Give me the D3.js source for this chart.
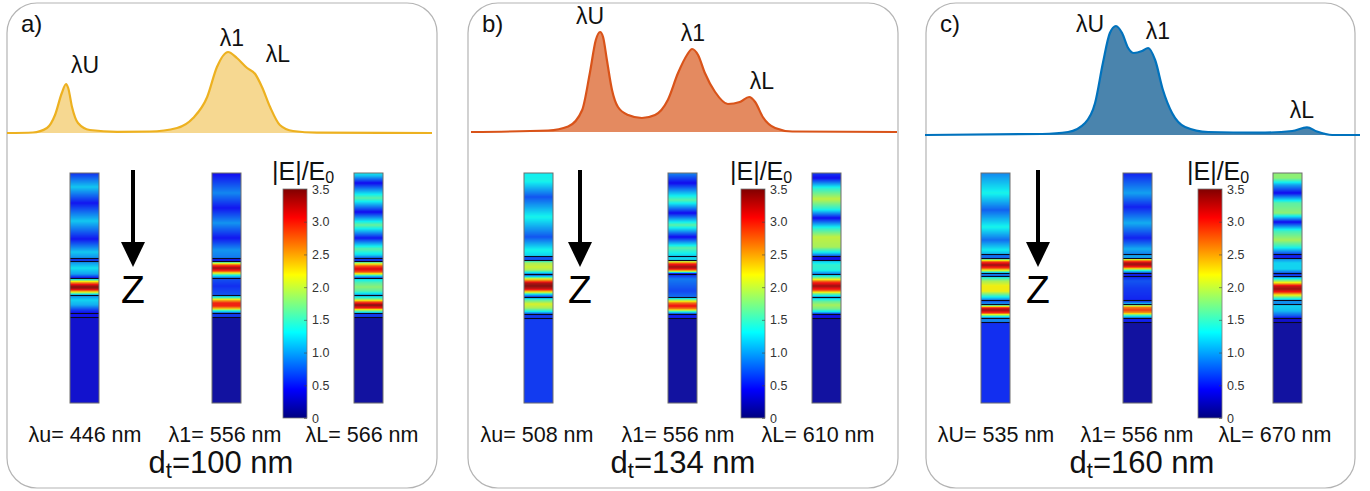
<!DOCTYPE html>
<html><head><meta charset="utf-8">
<script src="https://cdn.jsdelivr.net/npm/d3@7"></script>
<style>
body{margin:0;background:#fff}
svg{display:block;font-family:"Liberation Sans",Arial,Helvetica,sans-serif}
</style>
</head><body>
<svg id="chart" width="1370" height="491"></svg>
<script>
// ---------------- DATA ----------------
const panelLabels = ["a)", "b)", "c)"];
const cavityThickness = [100, 134, 160];           // d_t in nm
const wlNames = [["λu", "λ1", "λL"], ["λu", "λ1", "λL"], ["λU", "λ1", "λL"]];
const wlValues = [[446, 556, 566], [508, 556, 610], [535, 556, 670]];
const peakNames = ["λU", "λ1", "λL"];

// spectra: normalised spectral position (0-100) and intensity (a.u.)
const specA_pos = [0, 6.1, 9.4, 11.3, 12.9, 13.9, 14.4, 15.3, 16.7, 19.5, 25.9, 33.6, 40.0, 43.8, 47.1, 49.4, 52.0, 54.1, 56.5, 58.4, 60.0, 61.9, 64.2, 67.3, 72.9, 100];
const specA_val = [0, 0.005, 0.05, 0.18, 0.40, 0.49, 0.45, 0.26, 0.10, 0.03, 0.012, 0.015, 0.05, 0.15, 0.36, 0.66, 0.81, 0.75, 0.65, 0.59, 0.46, 0.26, 0.08, 0.02, 0.003, 0];
const specB_pos = [0, 18.1, 22.8, 26.1, 27.9, 29.3, 30.3, 31.0, 31.9, 33.1, 34.5, 36.9, 40.1, 43.2, 46.2, 48.6, 50.7, 51.9, 53.3, 54.9, 57.3, 60.3, 63.1, 65.3, 66.7, 68.5, 71.4, 75.4, 100];
const specB_val = [0, 0.015, 0.055, 0.22, 0.59, 0.92, 1.0, 0.95, 0.72, 0.42, 0.25, 0.17, 0.14, 0.17, 0.32, 0.59, 0.77, 0.83, 0.77, 0.59, 0.40, 0.28, 0.30, 0.35, 0.30, 0.15, 0.04, 0.005, 0];
const specC_pos = [0, 26.9, 32.9, 36.8, 39.1, 40.9, 42.5, 43.9, 45.3, 46.7, 48.0, 49.9, 51.3, 52.9, 54.7, 56.8, 59.8, 65.1, 76.6, 84.4, 87.8, 90.1, 93.6, 100];
const specC_val = [0, 0.01, 0.03, 0.12, 0.32, 0.72, 1.02, 1.09, 1.02, 0.87, 0.82, 0.84, 0.87, 0.75, 0.45, 0.22, 0.08, 0.03, 0.023, 0.04, 0.077, 0.035, 0, 0];

// layer interfaces (depth, a.u. 0-230 from top of the simulated stack)
const interfacesA = [85, 88, 105, 122, 140, 144];
const interfacesB = [83, 87, 101, 124, 141, 145];
const interfacesC = [81, 85, 100, 103, 127, 131, 145, 149];

// field profiles |E|/E0 : [depth, value]
const profA_U = [[0,0.55],[14,1.15],[30,0.45],[48,1.15],[66,0.45],[79,1.15],[84.5,0.95],[85.5,0.55],[87.5,0.6],[88.5,0.9],[95,1.25],[101,1.0],[104.5,0.5],[105.5,1.0],[107,1.6],[109,2.4],[112,3.2],[114,3.5],[116,3.3],[118,2.6],[120,1.8],[121.5,1.2],[122.5,0.9],[127,1.2],[132,1.05],[137,0.6],[139.5,0.45],[140.5,0.45],[143.5,0.45],[144.5,0.3],[230,0.3]];
const profA_1 = [[0,0.4],[20,0.9],[35,0.45],[50,0.95],[65,0.45],[77,0.95],[84.5,0.85],[85.5,0.45],[87.5,0.5],[88.5,1.2],[90,1.9],[92,2.8],[95,3.4],[98,2.9],[100.5,2.0],[102.5,1.3],[104.5,0.9],[105.5,0.7],[113,0.55],[121.5,0.7],[122.5,0.9],[124.5,1.5],[127,2.4],[130,3.0],[133,3.0],[135.5,2.4],[137.5,1.5],[139.5,0.9],[140.5,0.6],[143.5,0.6],[144.5,0.12],[230,0.12]];
const profA_L = [[0,1.3],[3,1.1],[10,0.4],[25,1.6],[39,0.4],[52,1.65],[65,0.45],[76,1.6],[82,1.2],[84.5,0.8],[85.5,0.6],[87.5,0.6],[88.5,1.2],[90,1.9],[93,2.8],[96,3.2],[99,2.8],[101.5,1.9],[103,1.2],[104.5,0.8],[105.5,1.2],[110,1.6],[114,1.8],[118,1.6],[121.5,1.1],[122.5,1.0],[126,1.7],[129,2.8],[132,3.5],[135,3.0],[137,2.0],[139.5,1.2],[140.5,0.6],[143.5,0.6],[144.5,0.12],[230,0.12]];

const profB_U = [[0,1.3],[8,1.35],[24,0.7],[44,1.35],[64,0.7],[77,1.35],[82.5,1.2],[83.5,0.7],[86.5,0.7],[87.5,1.3],[90,1.9],[94,2.05],[97,1.9],[100.5,1.0],[101.5,0.6],[103,1.0],[106,2.2],[110,3.3],[113,3.5],[116,3.2],[119,2.2],[121.5,1.2],[123.5,0.7],[124.5,0.9],[127,1.6],[131,2.1],[135,1.9],[138,1.4],[140.5,0.8],[141.5,0.6],[144.5,0.6],[145.5,0.6],[230,0.6]];
const profB_1 = [[0,0.9],[10,0.4],[27,1.6],[40,0.4],[52,1.6],[64,0.4],[75,1.6],[82.5,1.2],[83.5,1.2],[86.5,1.2],[87.5,1.5],[89,2.3],[91,3.0],[94,3.4],[96,3.1],[98,2.3],[99.5,1.2],[100.5,0.5],[101.5,0.5],[106,0.85],[112,0.75],[118,0.65],[123.5,0.8],[124.5,1.0],[127,1.8],[130,2.7],[133,3.1],[136,2.6],[138.5,1.5],[140.5,0.8],[141.5,0.5],[144.5,0.5],[145.5,0.12],[230,0.12]];
const profB_L = [[0,0.6],[5,0.4],[15,1.4],[26,2.0],[36,1.4],[45,0.4],[55,1.4],[64,2.0],[74,1.9],[80,1.2],[82.5,0.8],[83.5,0.4],[86.5,0.4],[87.5,1.1],[92,1.45],[97,1.4],[100.5,0.9],[101.5,1.0],[105,1.8],[109,2.9],[113,3.4],[117,2.9],[120.5,1.8],[123.5,1.1],[124.5,1.0],[128,1.6],[132,1.9],[136,1.7],[139,1.2],[140.5,0.7],[141.5,0.4],[144.5,0.4],[145.5,0.12],[230,0.12]];

const profC_U = [[0,0.9],[20,1.35],[37,0.75],[54,1.35],[67,0.8],[77,1.3],[80.5,1.1],[81.5,0.8],[84.5,0.8],[85.5,1.2],[87,2.0],[89,2.9],[92,3.4],[95,2.9],[98,1.9],[100,1.0],[102.5,0.8],[104,1.3],[108,1.9],[113,2.2],[118,2.2],[122,1.6],[126,1.0],[128,0.7],[131.5,1.0],[133,2.0],[135,3.1],[137,3.4],[140,2.9],[142,1.9],[144.5,1.0],[145.5,0.9],[148.5,0.9],[149.5,0.55],[230,0.55]];
const profC_1 = [[0,0.5],[20,1.0],[34,0.5],[50,1.05],[65,0.5],[76,1.05],[80.5,0.9],[81.5,1.0],[84.5,1.0],[85.5,1.5],[87,2.4],[89,3.1],[91,3.4],[93,3.2],[95,2.6],[97,1.6],[99,0.9],[101,0.5],[103.5,0.5],[108,0.7],[115,0.6],[122,0.55],[127.5,0.5],[130,0.9],[132,1.6],[134,2.6],[137,2.9],[140,2.5],[142,1.6],[144.5,0.9],[145.5,0.5],[148.5,0.5],[149.5,0.12],[230,0.12]];
const profC_L = [[0,1.8],[5,1.8],[12,1.0],[20,0.4],[30,1.6],[40,1.8],[49,0.4],[58,1.5],[67,1.9],[74,1.4],[80.5,0.7],[81.5,0.5],[84.5,0.5],[85.5,0.9],[90,1.2],[96,1.2],[99.5,0.8],[101,0.5],[103.5,0.8],[106,1.4],[110,2.3],[113,3.2],[116,3.4],[119,3.0],[122,2.2],[125,1.5],[127.5,1.0],[130,0.9],[133,1.2],[138,1.1],[143,0.7],[144.5,0.5],[145.5,0.3],[148.5,0.3],[149.5,0.12],[230,0.12]];

const cbTicks = [0, 0.5, 1.0, 1.5, 2.0, 2.5, 3.0, 3.5];

// ---------------- LAYOUT / STYLE ----------------
const lineColors = ["#EDB120", "#D95319", "#0072BD"];
const fillColors = ["#F6D891", "#E48A60", "#4A84AD"];
const layout = [
  {x: 7,   w: 430, cols: [70, 212, 354],  cb: 283,  arrow: 133,  line: [7, 432],    base: 133,
   peaks: [[85, 73], [232, 46], [278, 62]], bottom: [85, 225, 362], dt: 221},
  {x: 468, w: 430, cols: [524, 668, 812], cb: 741,  arrow: 580,  line: [471, 897],  base: 132,
   peaks: [[590, 24], [693, 41], [762, 89]], bottom: [537, 678, 818], dt: 683},
  {x: 926, w: 429, cols: [981, 1123, 1273], cb: 1198, arrow: 1038, line: [925, 1360], base: 135,
   peaks: [[1090, 32], [1158, 39], [1302, 118]], bottom: [996, 1137, 1275], dt: 1142}
];
const colTop = 173, colH = 230, colW = 29;
const cbTop = 189, cbH = 229, cbW = 24;

const spectra = [
  {pos: specA_pos, val: specA_val},
  {pos: specB_pos, val: specB_val},
  {pos: specC_pos, val: specC_val}
];
const interfaces = [interfacesA, interfacesB, interfacesC];
const profiles = [[profA_U, profA_1, profA_L], [profB_U, profB_1, profB_L], [profC_U, profC_1, profC_L]];

// jet colour map
const jet = d3.scaleLinear()
  .domain([0, 0.4375, 1.3125, 2.1875, 3.0625, 3.5])
  .range(["#000080", "#0000ff", "#00ffff", "#ffff00", "#ff0000", "#800000"])
  .clamp(true);
// rendered field maps look slightly muted
const fieldColor = v => d3.interpolateRgb(jet(v), "#8a8a8a")(0.13);

const svg = d3.select("#chart");
const defs = svg.append("defs");

// colorbar gradient
const grad = defs.append("linearGradient").attr("id", "jetgrad")
  .attr("x1", 0).attr("y1", 1).attr("x2", 0).attr("y2", 0);
jet.domain().forEach(d => grad.append("stop").attr("offset", d / 3.5).attr("stop-color", jet(d)));

layout.forEach((L, p) => {
  const g = svg.append("g");

  // panel frame
  g.append("rect").attr("x", L.x).attr("y", 3).attr("width", L.w).attr("height", 485)
    .attr("rx", 30).attr("ry", 30)
    .attr("fill", "none").attr("stroke", "#b4b4b4").attr("stroke-width", 1.2);

  // panel label
  g.append("text").attr("x", L.x + 14).attr("y", 32).attr("font-size", 24).attr("fill", "#111")
    .text(panelLabels[p]);

  // spectrum
  const sx = d3.scaleLinear().domain([0, 100]).range(L.line);
  const sy = d3.scaleLinear().domain([0, 1]).range([L.base, L.base - 100]);
  const pts = spectra[p].pos.map((d, i) => [d, spectra[p].val[i]]);
  const area = d3.area().x(d => sx(d[0])).y0(sy(0)).y1(d => sy(d[1])).curve(d3.curveMonotoneX);
  const line = d3.line().x(d => sx(d[0])).y(d => sy(d[1])).curve(d3.curveMonotoneX);
  g.append("path").attr("d", area(pts)).attr("fill", fillColors[p]);
  g.append("path").attr("d", line(pts)).attr("fill", "none").attr("stroke", lineColors[p])
    .attr("stroke-width", 2.2).attr("stroke-linejoin", "round");

  // peak labels
  L.peaks.forEach((pk, i) => {
    g.append("text").attr("x", pk[0]).attr("y", pk[1]).attr("text-anchor", "middle")
      .attr("font-size", 23).attr("fill", "#111").text(peakNames[i]);
  });

  // field columns
  const zy = d3.scaleLinear().domain([0, 230]).range([colTop, colTop + colH]);
  profiles[p].forEach((prof, ci) => {
    const interp = d3.scaleLinear().domain(prof.map(d => d[0])).range(prof.map(d => d[1])).clamp(true);
    const cx = L.cols[ci];
    const rows = d3.range(0, colH, 1);
    g.append("g").selectAll("rect").data(rows).join("rect")
      .attr("x", cx).attr("y", r => colTop + r).attr("width", colW).attr("height", 1.05)
      .attr("fill", r => fieldColor(interp(zy.invert(colTop + r + 0.5))));
    g.append("g").selectAll("line").data(interfaces[p]).join("line")
      .attr("x1", cx).attr("x2", cx + colW)
      .attr("y1", d => Math.round(zy(d)) + 0.5).attr("y2", d => Math.round(zy(d)) + 0.5)
      .attr("stroke", "#0a0a20").attr("stroke-width", 1.1);
    g.append("rect").attr("x", cx).attr("y", colTop).attr("width", colW).attr("height", colH)
      .attr("fill", "none").attr("stroke", "#6e6e6e").attr("stroke-width", 1);
  });

  // arrow + Z
  g.append("line").attr("x1", L.arrow).attr("x2", L.arrow).attr("y1", 170).attr("y2", 245)
    .attr("stroke", "#000").attr("stroke-width", 4);
  g.append("path").attr("d", `M${L.arrow - 12},242 L${L.arrow + 12},242 L${L.arrow},267 Z`).attr("fill", "#000");
  g.append("text").attr("x", L.arrow).attr("y", 303).attr("text-anchor", "middle")
    .attr("font-size", 39).attr("fill", "#000").text("Z");

  // colorbar
  const cy = d3.scaleLinear().domain([0, 3.5]).range([cbTop + cbH, cbTop]);
  g.append("rect").attr("x", L.cb).attr("y", cbTop).attr("width", cbW).attr("height", cbH)
    .attr("fill", "url(#jetgrad)").attr("stroke", "#7a7a7a").attr("stroke-width", 0.8);
  const ax = g.append("g").attr("transform", `translate(${L.cb + cbW},0)`)
    .call(d3.axisRight(cy).tickValues(cbTicks).tickSize(-3).tickPadding(5)
      .tickFormat(d => d === 0 ? "0" : d.toFixed(1)));
  ax.select(".domain").remove();
  ax.selectAll(".tick line").attr("stroke", "#444").attr("stroke-width", 0.6);
  ax.selectAll(".tick text").attr("font-size", 12.5).attr("fill", "#333")
    .attr("font-family", "Liberation Sans, Arial, sans-serif");

  const title = g.append("text").attr("x", L.cb - 11).attr("y", 180).attr("font-size", 25).attr("fill", "#111");
  title.append("tspan").text("|E|/E");
  title.append("tspan").attr("font-size", 16).attr("dy", 3).text("0");

  // wavelength labels
  wlNames[p].forEach((n, i) => {
    g.append("text").attr("x", L.bottom[i]).attr("y", 442).attr("text-anchor", "middle")
      .attr("font-size", 21.5).attr("fill", "#111").text(`${n}= ${wlValues[p][i]} nm`);
  });

  // thickness label
  const dt = g.append("text").attr("x", L.dt).attr("y", 473).attr("text-anchor", "middle")
    .attr("font-size", 31).attr("fill", "#111");
  dt.append("tspan").text("d");
  dt.append("tspan").attr("font-size", 22).attr("dy", 5).text("t");
  dt.append("tspan").attr("dy", -5).text(`=${cavityThickness[p]} nm`);
});
</script>
</body></html>
